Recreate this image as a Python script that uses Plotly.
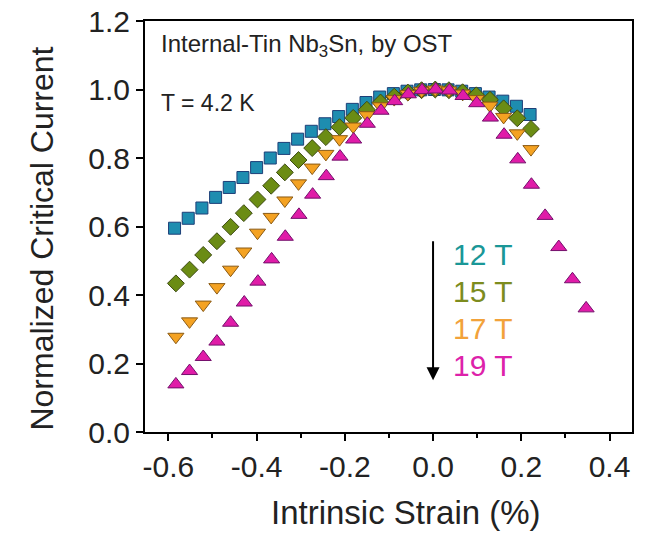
import plotly.graph_objects as go

# 12 T (blue squares)
x12 = [-0.586, -0.555, -0.524, -0.493, -0.462, -0.431, -0.400, -0.369, -0.338, -0.307,
       -0.276, -0.245, -0.214, -0.183, -0.152, -0.121, -0.090, -0.059, -0.028, 0.003,
       0.034, 0.065, 0.096, 0.127, 0.158, 0.189, 0.220]
y12 = [0.595, 0.624, 0.654, 0.685, 0.714, 0.743, 0.772, 0.800, 0.828, 0.855,
       0.878, 0.900, 0.921, 0.942, 0.962, 0.978, 0.988, 0.995, 0.999, 1.000,
       0.999, 0.995, 0.988, 0.978, 0.966, 0.951, 0.927]

# 15 T (green diamonds)
x15 = [-0.583, -0.552, -0.521, -0.490, -0.459, -0.429, -0.398, -0.367, -0.336, -0.305,
       -0.274, -0.243, -0.212, -0.181, -0.150, -0.119, -0.088, -0.057, -0.026, 0.005,
       0.036, 0.067, 0.098, 0.129, 0.160, 0.191, 0.222]
y15 = [0.434, 0.474, 0.517, 0.557, 0.599, 0.639, 0.679, 0.719, 0.758, 0.794,
       0.829, 0.861, 0.890, 0.917, 0.941, 0.962, 0.979, 0.991, 0.998, 1.000,
       0.998, 0.992, 0.983, 0.970, 0.945, 0.916, 0.885]

# 17 T (orange down-triangles)
x17 = [-0.583, -0.552, -0.521, -0.490, -0.459, -0.429, -0.398, -0.367, -0.336, -0.305,
       -0.274, -0.243, -0.212, -0.181, -0.150, -0.119, -0.088, -0.057, -0.026, 0.005,
       0.036, 0.067, 0.098, 0.129, 0.160, 0.191, 0.222]
y17 = [0.278, 0.323, 0.372, 0.423, 0.474, 0.527, 0.582, 0.628, 0.676, 0.726,
       0.772, 0.812, 0.855, 0.892, 0.925, 0.951, 0.972, 0.987, 0.996, 1.000,
       0.997, 0.988, 0.972, 0.953, 0.920, 0.872, 0.826]

# 19 T (magenta up-triangles)
x19 = [-0.583, -0.552, -0.521, -0.490, -0.459, -0.428, -0.397, -0.366, -0.335, -0.304,
       -0.273, -0.242, -0.211, -0.180, -0.149, -0.118, -0.087, -0.056, -0.025, 0.006,
       0.037, 0.068, 0.099, 0.130, 0.161, 0.192, 0.223, 0.254, 0.285, 0.316, 0.347]
y19 = [0.139, 0.178, 0.219, 0.264, 0.319, 0.378, 0.439, 0.504, 0.570, 0.634,
       0.693, 0.747, 0.804, 0.854, 0.900, 0.938, 0.966, 0.986, 0.998, 1.000,
       0.997, 0.981, 0.960, 0.918, 0.868, 0.796, 0.722, 0.631, 0.540, 0.446, 0.361]

field_labels = ["12 T", "15 T", "17 T", "19 T"]
label_colors = ["#1a9797", "#7d8c1e", "#f2a23a", "#dd22aa"]
label_y = [0.517, 0.410, 0.303, 0.195]

xticks = [-0.6, -0.4, -0.2, 0.0, 0.2, 0.4]
yticks = [0.0, 0.2, 0.4, 0.6, 0.8, 1.0, 1.2]

x_title = "Intrinsic Strain (%)"
y_title = "Normalized Critical Current"

FONT = "Arial, 'Liberation Sans', sans-serif"

fig = go.Figure()
series = [
    (x12, y12, "square", 12, "#1e8db0", "#1d3f78"),
    (x15, y15, "diamond", 13, "#6b8c14", "#3c4a12"),
    (x17, y17, "triangle-down", 14, "#f4a222", "#8a5a14"),
    (x19, y19, "triangle-up", 14, "#e01ca8", "#74106c"),
]
for (xs, ys, sym, sz, fc, ec), name in zip(series, field_labels):
    fig.add_trace(go.Scatter(
        x=xs, y=ys, mode="markers", name=name, showlegend=False,
        marker=dict(symbol=sym, size=sz, color=fc, line=dict(color=ec, width=1)),
    ))

for lab, col, yy in zip(field_labels, label_colors, label_y):
    fig.add_annotation(x=0.040, y=yy, xref="x", yref="y", text=lab, showarrow=False,
                       xanchor="left", yanchor="middle",
                       font=dict(family=FONT, size=30, color=col))

# arrow
fig.add_annotation(x=0.0, y=0.151, ax=0.0, ay=0.561, xref="x", yref="y",
                   axref="x", ayref="y", text="", showarrow=True,
                   arrowhead=2, arrowsize=1.3, arrowwidth=2, arrowcolor="black")

fig.add_annotation(x=-0.622, y=1.129, xref="x", yref="y",
                   text="Internal-Tin Nb<sub>3</sub>Sn, by OST", showarrow=False,
                   xanchor="left", yanchor="middle",
                   font=dict(family=FONT, size=24, color="#222"))
fig.add_annotation(x=-0.622, y=0.961, xref="x", yref="y",
                   text="T = 4.2 K", showarrow=False,
                   xanchor="left", yanchor="middle",
                   font=dict(family=FONT, size=23, color="#222"))

# axis titles (placed as annotations to match the reference offsets)
fig.add_annotation(x=0.535, y=-0.195, xref="paper", yref="paper", text=x_title,
                   showarrow=False, xanchor="center", yanchor="middle",
                   font=dict(family=FONT, size=33, color="#222"))
fig.add_annotation(x=-0.212, y=0.47, xref="paper", yref="paper", text=y_title,
                   showarrow=False, xanchor="center", yanchor="middle", textangle=-90,
                   font=dict(family=FONT, size=32, color="#222"))

fig.update_xaxes(
    range=[-0.653, 0.451], tickvals=xticks, ticktext=["%.1f" % v for v in xticks],
    ticks="outside", ticklen=7, tickwidth=2, tickcolor="black",
    minor=dict(ticks="outside", ticklen=4, tickwidth=2, tickcolor="black", dtick=0.1, tick0=0),
    showline=True, linewidth=2, linecolor="black", mirror=True,
    showgrid=False, zeroline=False,
    tickfont=dict(family=FONT, size=30, color="#222"),
)
fig.update_yaxes(
    range=[0, 1.2], tickvals=yticks, ticktext=["%.1f" % v for v in yticks],
    ticks="outside", ticklen=7, tickwidth=2, tickcolor="black",
    showline=True, linewidth=2, linecolor="black", mirror=True,
    showgrid=False, zeroline=False,
    tickfont=dict(family=FONT, size=30, color="#222"),
)
fig.update_layout(
    width=654, height=533, margin=dict(l=145, r=22, t=21, b=101, autoexpand=False),
    plot_bgcolor="white", paper_bgcolor="white",
)
fig.write_html("out.html")
